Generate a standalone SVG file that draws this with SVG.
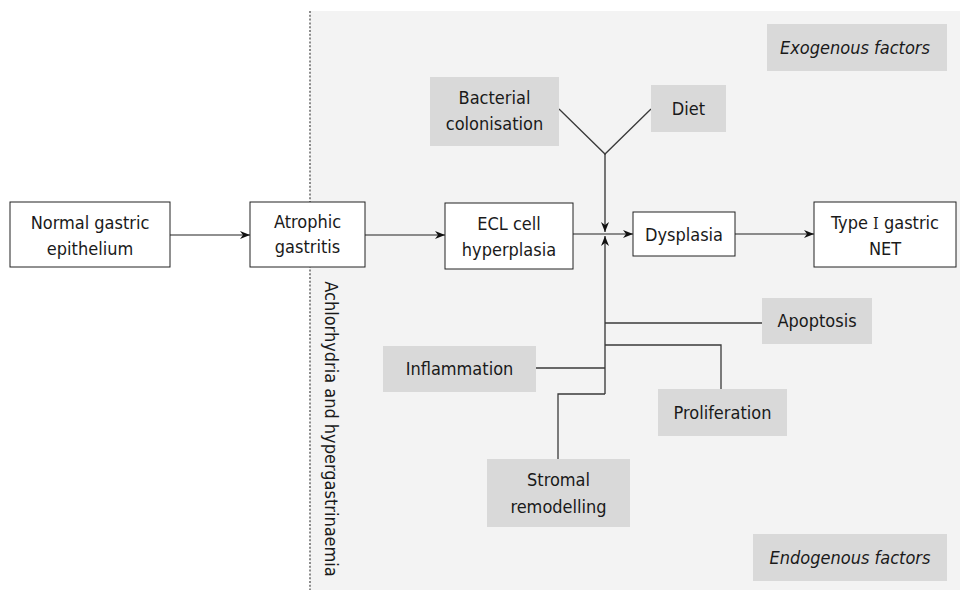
<svg xmlns="http://www.w3.org/2000/svg" width="960" height="590" viewBox="0 0 960 590">
<style>
text{font-family:"DejaVu Sans Condensed","DejaVu Sans","Liberation Sans",sans-serif;font-stretch:condensed;font-size:18px;fill:#1a1a1a;text-anchor:middle}
.it{font-style:italic}
.wb{fill:#fff;stroke:#222;stroke-width:1}
.gb{fill:#d9d9d9}
.ln{fill:none;stroke:#3a3a3a;stroke-width:1.3}
.ar{fill:none;stroke:#222;stroke-width:1.2;marker-end:url(#ah)}
</style>
<defs>
<marker id="ah" viewBox="0 0 10 10" refX="10" refY="5" markerWidth="10" markerHeight="10" markerUnits="userSpaceOnUse" orient="auto">
<path d="M0,1 L10,5 L0,9 L3,5 z" fill="#111"/>
</marker>
</defs>
<rect x="0" y="0" width="960" height="590" fill="#fff"/>
<rect x="310" y="11" width="650" height="579" fill="#f3f3f3"/>
<line x1="310" y1="11" x2="310" y2="590" stroke="#8c8c8c" stroke-width="2" stroke-dasharray="2 1.8"/>
<text transform="translate(325,429) rotate(90)">Achlorhydria and hypergastrinaemia</text>
<g id="connectors">
<line class="ar" x1="170" y1="235" x2="250" y2="235"/>
<line class="ar" x1="365" y1="235" x2="445" y2="235"/>
<line class="ar" x1="573" y1="234" x2="633" y2="234"/>
<line class="ar" x1="735" y1="234" x2="814" y2="234"/>
<polyline class="ln" points="559,109 605,154 651,109"/>
<line class="ar" x1="605" y1="154" x2="605" y2="232"/>
<line class="ar" x1="605" y1="394" x2="605" y2="236"/>
<line class="ln" x1="605" y1="323" x2="762" y2="323"/>
<polyline class="ln" points="605,345 721,345 721,389"/>
<line class="ln" x1="536" y1="368" x2="605" y2="368"/>
<polyline class="ln" points="605,394 558,394 558,459"/>
</g>
<g id="normal"><rect class="wb" x="10" y="202" width="160" height="65"/><text x="90" y="229">Normal gastric</text><text x="90" y="255">epithelium</text></g>
<g id="atrophic"><rect class="wb" x="250" y="202" width="115" height="65"/><text x="307.5" y="228">Atrophic</text><text x="307.5" y="253">gastritis</text></g>
<g id="ecl"><rect class="wb" x="445" y="203" width="128" height="66"/><text x="509" y="230">ECL cell</text><text x="509" y="256">hyperplasia</text></g>
<g id="dysplasia"><rect class="wb" x="633" y="212" width="102" height="44"/><text x="684" y="241">Dysplasia</text></g>
<g id="net"><rect class="wb" x="814" y="202" width="142" height="65"/><text x="885" y="229">Type <tspan font-family="'Liberation Serif','DejaVu Serif',serif" font-size="16">Ⅰ</tspan> gastric</text><text x="885" y="255">NET</text></g>
<g id="exogenous"><rect class="gb" x="767" y="24" width="180" height="47"/><text class="it" x="855" y="54">Exogenous factors</text></g>
<g id="endogenous"><rect class="gb" x="753" y="534" width="194" height="47"/><text class="it" x="850" y="564">Endogenous factors</text></g>
<g id="bacterial"><rect class="gb" x="430" y="77" width="129" height="69"/><text x="494.5" y="104">Bacterial</text><text x="494.5" y="130">colonisation</text></g>
<g id="diet"><rect class="gb" x="651" y="85" width="75" height="47"/><text x="688.5" y="115">Diet</text></g>
<g id="apoptosis"><rect class="gb" x="762" y="298" width="110" height="46"/><text x="817" y="327">Apoptosis</text></g>
<g id="inflammation"><rect class="gb" x="383" y="346" width="153" height="46"/><text x="459.5" y="375">Inflammation</text></g>
<g id="proliferation"><rect class="gb" x="658" y="389" width="129" height="47"/><text x="722.5" y="419">Proliferation</text></g>
<g id="stromal"><rect class="gb" x="487" y="459" width="143" height="68"/><text x="558.5" y="486">Stromal</text><text x="558.5" y="513">remodelling</text></g>
</svg>
